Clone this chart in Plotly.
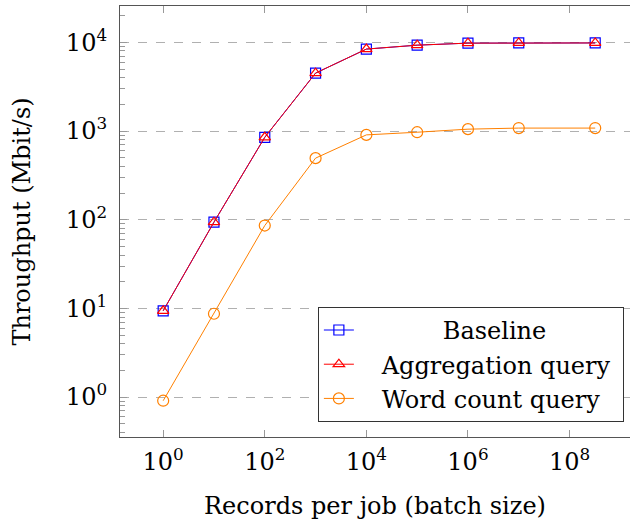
import plotly.graph_objects as go

batch_sizes = [1, 10, 100, 1000, 1e4, 1e5, 1e6, 1e7, 3.2e8]
baseline = [9.4, 94, 850, 4500, 8400, 9300, 9800, 9850, 9850]
aggregation = [9.4, 94, 850, 4500, 8400, 9300, 9800, 9850, 9850]
word_count = [0.91, 8.7, 86, 495, 905, 970, 1050, 1080, 1080]

x_tick_vals = [1, 100, 1e4, 1e6, 1e8]
x_tick_text = ["10<sup>0</sup>", "10<sup>2</sup>", "10<sup>4</sup>", "10<sup>6</sup>", "10<sup>8</sup>"]
y_tick_vals = [1, 10, 100, 1000, 1e4]
y_tick_text = ["10<sup>0</sup>", "10<sup>1</sup>", "10<sup>2</sup>", "10<sup>3</sup>", "10<sup>4</sup>"]

FONT = "DejaVu Serif"
FS = 24
NB = "\u00a0"
fig = go.Figure()
fig.add_trace(go.Scatter(x=batch_sizes, y=baseline, name=NB * 11 + "Baseline", mode="lines+markers",
                         line=dict(color="#0000ff", width=1),
                         marker=dict(symbol="square-open", size=10, color="#0000ff", line=dict(width=1.2))))
fig.add_trace(go.Scatter(x=batch_sizes, y=aggregation, name=NB * 3 + "Aggregation query" + NB, mode="lines+markers",
                         line=dict(color="#ff0000", width=1),
                         marker=dict(symbol="triangle-up-open", size=10, color="#ff0000", line=dict(width=1.2))))
fig.add_trace(go.Scatter(x=batch_sizes, y=word_count, name=NB * 3 + "Word count query", mode="lines+markers",
                         line=dict(color="#ff8000", width=1),
                         marker=dict(symbol="circle-open", size=11, color="#ff8000", line=dict(width=1.2))))

axis_common = dict(type="log", showline=True, linecolor="#555555", linewidth=1.2,
                   ticks="inside", tickcolor="#999999", ticklen=7, automargin=False,
                   tickfont=dict(family=FONT, size=FS, color="black"), zeroline=False)
fig.update_xaxes(**axis_common, mirror="ticks", range=[-0.85, 9.19], tickmode="array",
                 tickvals=x_tick_vals, ticktext=x_tick_text, showgrid=False, ticklabelstandoff=3,
                 title=dict(text="Records per job (batch size)", font=dict(family=FONT, size=FS, color="black"), standoff=22))
fig.update_yaxes(**axis_common, mirror=False, range=[-0.45, 4.41], tickmode="array",
                 tickvals=y_tick_vals, ticktext=y_tick_text, showgrid=True, gridcolor="#b0b0b0",
                 griddash="dash", gridwidth=1, ticklabelstandoff=7,
                 minor=dict(dtick="D1", ticks="inside", ticklen=5, tickcolor="#999999", showgrid=False),
                 title=dict(text="Throughput (Mbit/s)", font=dict(family=FONT, size=FS, color="black"), standoff=28))
fig.update_layout(width=630, height=520, margin=dict(l=120, r=0, t=6, b=83),
                  plot_bgcolor="white", paper_bgcolor="white", font=dict(family=FONT, color="black"),
                  showlegend=True,
                  legend=dict(x=0.988, y=0.035, xanchor="right", yanchor="bottom", bgcolor="white",
                              bordercolor="#333333", borderwidth=1,
                              font=dict(family=FONT, size=FS, color="black"), tracegroupgap=0))
fig.write_html("out.html", config={"displayModeBar": False},
               post_script="document.body.style.margin='0';")
